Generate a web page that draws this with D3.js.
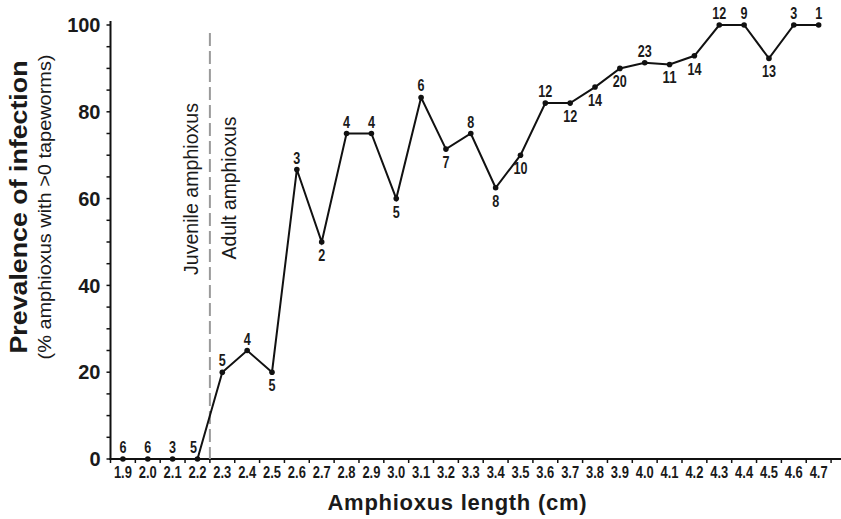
<!DOCTYPE html>
<html>
<head>
<meta charset="utf-8">
<script src="https://cdn.jsdelivr.net/npm/d3@7"></script>
<style>
  body { margin: 0; background: #fff; }
  svg text { font-family: "Liberation Sans", Arial, sans-serif; fill: #1a1a1a; }
</style>
</head>
<body>
<div id="chart"></div>
<script>
var w = 841,
    h = 519;

// amphioxus length classes (cm)
var lengths = [1.9, 2.0, 2.1, 2.2, 2.3, 2.4, 2.5, 2.6, 2.7, 2.8, 2.9, 3.0, 3.1, 3.2, 3.3,
               3.4, 3.5, 3.6, 3.7, 3.8, 3.9, 4.0, 4.1, 4.2, 4.3, 4.4, 4.5, 4.6, 4.7];
// prevalence (%)
var prevalence = [0, 0, 0, 0, 20, 25, 20, 66.7, 50, 75, 75, 60, 83.3, 71.4, 75,
                  62.5, 70, 82, 82, 85.7, 90, 91.3, 90.9, 92.9, 100, 100, 92.3, 100, 100];
// sample size per class
var sampleN = [6, 6, 3, 5, 5, 4, 5, 3, 2, 4, 4, 5, 6, 7, 8,
               8, 10, 12, 12, 14, 20, 23, 11, 14, 12, 9, 13, 3, 1];
// label above (1) or below (0) the point
var labelAbove = [1, 1, 1, 1, 1, 1, 0, 1, 0, 1, 1, 0, 1, 0, 1,
                  0, 0, 1, 0, 0, 0, 1, 0, 0, 1, 1, 0, 1, 1];
var yTicks = [0, 20, 40, 60, 80, 100];
var boundary = 2.25; // juvenile / adult

var data = lengths.map(function(d, i) {
  return {x: d, y: prevalence[i], n: sampleN[i], up: labelAbove[i]};
});

var x = d3.scaleLinear().domain([1.85, 4.8]).range([110.5, 843.5]);
var y = d3.scaleLinear().domain([0, 100]).range([459, 25]);

var svg = d3.select("#chart").append("svg")
  .attr("width", w)
  .attr("height", h);

// y axis
var yAxis = svg.append("g").attr("transform", "translate(110.5,0)");
yAxis.append("line")
  .attr("y1", 21).attr("y2", 460)
  .attr("stroke", "#111").attr("stroke-width", 2);
yAxis.selectAll("line.tick")
  .data(d3.range(0, 101, 5))
  .enter().append("line")
  .attr("class", "tick")
  .attr("x1", -4).attr("x2", 0)
  .attr("y1", function(d){ return y(d); })
  .attr("y2", function(d){ return y(d); })
  .attr("stroke", "#111").attr("stroke-width", 1.5);
yAxis.selectAll("text")
  .data(yTicks)
  .enter().append("text")
  .attr("x", -10)
  .attr("y", function(d){ return y(d); })
  .attr("dy", "0.36em")
  .attr("text-anchor", "end")
  .attr("font-weight", "bold")
  .attr("font-size", "20px")
  .text(function(d){ return d; });

// x axis
var xAxis = svg.append("g").attr("transform", "translate(0,459)");
xAxis.append("line")
  .attr("x1", 109.5).attr("x2", w)
  .attr("stroke", "#111").attr("stroke-width", 2);
xAxis.selectAll("line.tick")
  .data(d3.range(0, 30).map(function(i){ return 1.85 + i * 0.1; }))
  .enter().append("line")
  .attr("class", "tick")
  .attr("x1", function(d){ return x(d); })
  .attr("x2", function(d){ return x(d); })
  .attr("y1", 0).attr("y2", 4)
  .attr("stroke", "#111").attr("stroke-width", 1.5);
xAxis.selectAll("text")
  .data(lengths)
  .enter().append("text")
  .attr("x", function(d){ return x(d); })
  .attr("y", 19)
  .attr("text-anchor", "middle")
  .attr("font-size", "16px")
  .attr("font-weight", "bold")
  .attr("textLength", 18)
  .attr("lengthAdjust", "spacingAndGlyphs")
  .text(function(d){ return d.toFixed(1); });

// boundary line
svg.append("line")
  .attr("x1", x(boundary)).attr("x2", x(boundary))
  .attr("y1", 33).attr("y2", 459)
  .attr("stroke", "#9a9a9a").attr("stroke-width", 2)
  .attr("stroke-dasharray", "13,5");

svg.append("text")
  .attr("transform", "translate(" + (x(boundary) - 12) + ",189) rotate(-90)")
  .attr("text-anchor", "middle")
  .attr("font-size", "21px")
  .attr("textLength", 172)
  .attr("lengthAdjust", "spacingAndGlyphs")
  .text("Juvenile amphioxus");
svg.append("text")
  .attr("transform", "translate(" + (x(boundary) + 26) + ",188) rotate(-90)")
  .attr("text-anchor", "middle")
  .attr("font-size", "21px")
  .attr("textLength", 143)
  .attr("lengthAdjust", "spacingAndGlyphs")
  .text("Adult amphioxus");

// line + points
var line = d3.line()
  .x(function(d){ return x(d.x); })
  .y(function(d){ return y(d.y); });

svg.append("path")
  .datum(data)
  .attr("d", line)
  .attr("fill", "none")
  .attr("stroke", "#111")
  .attr("stroke-width", 2);

svg.selectAll("circle")
  .data(data)
  .enter().append("circle")
  .attr("cx", function(d){ return x(d.x); })
  .attr("cy", function(d){ return y(d.y); })
  .attr("r", 2.8)
  .attr("fill", "#111");

// sample size labels
svg.selectAll("text.n")
  .data(data)
  .enter().append("text")
  .attr("class", "n")
  .attr("x", function(d, i){ return x(d.x) - (i == 3 ? 4 : 0); })
  .attr("y", function(d){ return y(d.y) + (d.up ? -6 : 19); })
  .attr("text-anchor", "middle")
  .attr("font-size", "17px")
  .attr("font-weight", "bold")
  .attr("textLength", function(d){ return String(d.n).length * 7; })
  .attr("lengthAdjust", "spacingAndGlyphs")
  .text(function(d){ return d.n; });

// axis titles
svg.append("text")
  .attr("transform", "translate(27,207) rotate(-90)")
  .attr("text-anchor", "middle")
  .attr("font-weight", "bold")
  .attr("font-size", "24px")
  .attr("textLength", 293)
  .attr("lengthAdjust", "spacingAndGlyphs")
  .text("Prevalence of infection");
svg.append("text")
  .attr("transform", "translate(51,207) rotate(-90)")
  .attr("text-anchor", "middle")
  .attr("font-size", "19px")
  .attr("textLength", 305)
  .attr("lengthAdjust", "spacingAndGlyphs")
  .text("(% amphioxus with >0 tapeworms)");
svg.append("text")
  .attr("x", 457)
  .attr("y", 510)
  .attr("text-anchor", "middle")
  .attr("font-weight", "bold")
  .attr("font-size", "22px")
  .attr("textLength", 259)
  .attr("lengthAdjust", "spacing")
  .text("Amphioxus length (cm)");
</script>
</body>
</html>
